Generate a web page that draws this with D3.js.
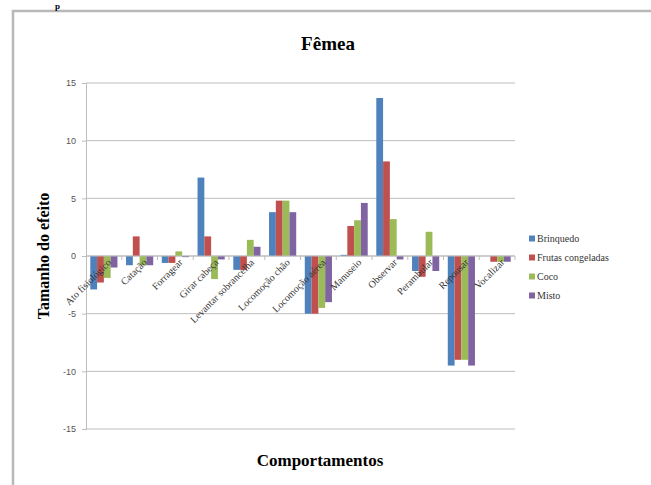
<!DOCTYPE html>
<html><head><meta charset="utf-8">
<script src="https://cdn.jsdelivr.net/npm/d3@7"></script>
<style>body{margin:0;background:#fff}svg{display:block;font-family:"Liberation Serif","Times New Roman",serif}</style>
</head><body>
<svg id="c" width="651" height="485"></svg>
<script>
const categories = ["Ato fisiológico","Catação","Forragear","Girar cabeça","Levantar sobrancelha","Locomoção chão","Locomoção aérea","Manuseio","Observar","Perambular","Repousar","Vocalizar"];
const seriesNames = ["Brinquedo","Frutas congeladas","Coco","Misto"];
const brinquedo = [-2.9,-0.8,-0.6,6.8,-1.2,3.8,-5.0,0.1,13.7,-1.3,-9.5,0];
const frutas    = [-2.3,1.7,-0.6,1.7,-1.2,4.8,-5.0,2.6,8.2,-1.8,-9.0,-0.5];
const coco      = [-1.9,-0.8,0.4,-2.0,1.4,4.8,-4.5,3.1,3.2,2.1,-9.0,-0.5];
const misto     = [-1.0,-0.8,-0.1,-0.3,0.8,3.8,-4.0,4.6,-0.3,-1.3,-9.5,-0.5];
const yTicks = [-15,-10,-5,0,5,10,15];
const colors = ["#4F81BD","#C0504D","#9BBB59","#8064A2"];
const series = [brinquedo, frutas, coco, misto];

const svg = d3.select("#c");
const L = 86, R = 515, T = 83, B = 429;

// frame
svg.append("path").attr("d","M13,485 L13,11 L651,11")
  .attr("fill","none").attr("stroke","#b8b8b8").attr("stroke-width",2.5);
svg.append("text").attr("x",55).attr("y",9).attr("font-size",9).attr("font-weight","bold").text("p");

const y = d3.scaleLinear().domain([-15,15]).range([B,T]);
const x0 = d3.scaleBand().domain(categories).range([L,R]).paddingInner(0.24).paddingOuter(0.12);
const xCat = d3.scaleBand().domain(categories).range([L,R]);
const x1 = d3.scaleBand().domain(seriesNames).range([0,x0.bandwidth()]);

// gridlines
svg.append("g").selectAll("line").data(yTicks).join("line")
  .attr("x1",L).attr("x2",R).attr("y1",d=>y(d)).attr("y2",d=>y(d))
  .attr("stroke","#bdbdbd").attr("stroke-width",1);

// y axis
const ya = svg.append("g").attr("transform",`translate(${L},0)`)
  .call(d3.axisLeft(y).tickValues(yTicks).tickSize(4).tickPadding(6).tickFormat(d=>String(d)));
ya.select(".domain").attr("stroke","#bdbdbd");
ya.selectAll(".tick line").attr("stroke","#bdbdbd");
ya.selectAll("text").attr("font-family","Liberation Sans, Arial, sans-serif").attr("font-size",9).attr("fill","#555");

// bars
const g = svg.append("g");
categories.forEach((c,i)=>{
  series.forEach((s,j)=>{
    const v = s[i];
    g.append("rect")
      .attr("x", x0(c)+x1(seriesNames[j]))
      .attr("width", x1.bandwidth())
      .attr("y", y(Math.max(0,v)))
      .attr("height", Math.abs(y(v)-y(0)))
      .attr("fill", colors[j]);
  });
});

// zero line with category ticks
svg.append("line").attr("x1",L).attr("x2",R).attr("y1",y(0)).attr("y2",y(0)).attr("stroke","#bdbdbd");
svg.append("g").selectAll("line").data(categories).join("line")
  .attr("x1",(d,i)=>L+xCat.step()*(i+1)).attr("x2",(d,i)=>L+xCat.step()*(i+1))
  .attr("y1",y(0)).attr("y2",y(0)+4).attr("stroke","#bdbdbd");

// category labels
svg.append("g").selectAll("text").data(categories).join("text")
  .attr("transform",d=>`translate(${xCat(d)+xCat.bandwidth()/2+8},${y(0)+7}) rotate(-45)`)
  .attr("text-anchor","end").attr("font-size",10).attr("fill","#333")
  .text(d=>d);

// titles
svg.append("text").attr("x",328).attr("y",50).attr("text-anchor","middle")
  .attr("font-size",19).attr("font-weight","bold").text("Fêmea");
svg.append("text").attr("transform","translate(49,256) rotate(-90)").attr("text-anchor","middle")
  .attr("font-size",16).attr("font-weight","bold").text("Tamanho do efeito");
svg.append("text").attr("x",320).attr("y",466).attr("text-anchor","middle")
  .attr("font-size",17).attr("font-weight","bold").text("Comportamentos");

// legend
const lg = svg.append("g").attr("transform","translate(529,239)");
seriesNames.forEach((n,i)=>{
  lg.append("rect").attr("x",0).attr("y",i*19-3.5).attr("width",6).attr("height",6).attr("fill",colors[i]);
  lg.append("text").attr("x",8).attr("y",i*19+3).attr("font-size",10).attr("fill","#333").text(n);
});
</script>
</body></html>
